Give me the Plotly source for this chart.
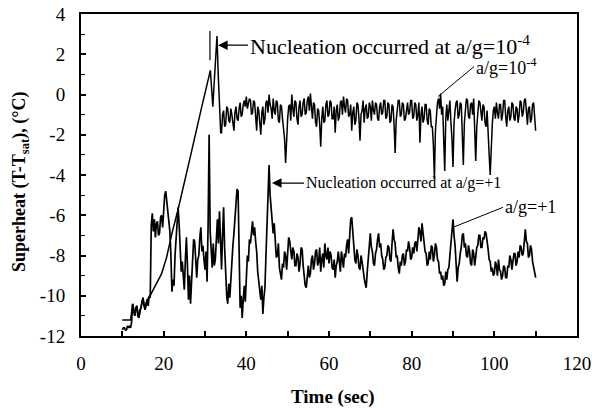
import plotly.graph_objects as go

# ---------------- data ----------------
# a/g = 1e-4 : early samples, the straight ramp, the nucleation peak
t_low_early = [10.0, 11.0, 12.0, 12.5, 13.0, 13.5, 14.0, 14.5, 15.0, 15.5, 16.0, 16.7,
               18.0, 19.5, 20.7, 22.0, 23.5, 25.0, 27.0, 29.0, 31.3,
               31.6, 31.9, 32.2, 32.5, 32.9, 33.2, 33.5, 33.8]
v_low_early = [-11.2, -11.2, -11.2, -10.4, -11.0, -10.5, -11.1, -10.6, -10.1, -10.7, -10.2, -10.0,
               -9.5, -8.9, -8.1, -6.9, -5.7, -4.3, -2.6, -0.8, 1.2,
               0.3, -0.6, 0.5, 1.5, 2.9, 1.0, -0.5, -1.9]

# a/g = 1e-4 : noisy plateau, sampled every 0.25 s from 34 s (one row per second)
low_start = 34.0
sample_step = 0.25
v_low_plateau = [
    -1.9, -1.0, -0.8, -1.6,   -1.5, -0.6, -0.7, -1.3,   -1.4, -0.7, -1.0, -1.5,
    -1.8, -0.9, -0.6, -1.2,   -1.3, -0.7, -0.4, -1.1,   -1.0, -0.5, -0.3, -0.6,
    -0.1, -0.7, -0.5, -0.2,   -0.3, -1.0, -0.9, -0.3,   -0.4, -1.1, -1.8, -0.6,
    -0.8, -1.4, -2.0, -0.9,   -0.6, -1.5, -1.2, -0.4,   -0.3, -0.9, 0.0, -0.5,
    -0.7, -1.2, -0.2, -0.8,   -1.0, -0.3, -0.4, -1.3,   -1.4, -0.5, -0.6, -1.2,
    -1.6, -2.2, -3.4, -1.7,   -1.2, -0.6, -0.5, -1.3,   0.0, -0.7, -1.1, -0.3,
    -0.4, -1.2, -1.5, -0.6,   -0.3, -1.1, -1.0, -0.4,   -0.2, -1.0, -0.9, -0.3,
    -0.1, -0.8, 0.05, -0.6,   -1.2, -0.4, -0.5, -1.4,   -1.6, -0.7, -0.8, -1.5,
    -2.6, -1.2, -0.6, -1.4,   -1.3, -0.5, -0.3, -1.1,   -1.0, -0.3, -0.4, -1.2,
    -1.2, -0.6, -1.9, -0.8,   -0.5, -1.3, -1.1, -0.4,   -0.3, -1.0, -0.1, -0.6,
    -0.9, -0.2, -0.3, -1.1,   -1.0, -0.5, -1.8, -0.9,   -0.6, -1.5, -1.3, -0.4,
    -0.5, -1.2, -2.3, -1.0,   -0.8, -0.3, -1.4, -0.7,   -0.5, -1.2, -1.1, -0.4,
    -0.6, -1.3, -0.3, -0.8,   -1.0, -0.4, -0.5, -1.2,   -1.3, -0.6, -0.4, -1.0,
    -0.9, -0.3, -0.3, -1.2,   -1.1, -0.4, -0.5, -1.4,   -1.3, -0.5, -0.6, -1.5,
    -2.9, -1.3, -0.8, -0.3,   -0.3, -1.1, -1.0, -0.4,   -0.5, -1.3, -1.2, -0.6,
    -0.4, -1.0, -0.9, -0.3,   -0.3, -1.2, -1.1, -0.4,   -0.5, -1.3, -1.0, -0.4,
    -2.4, -1.0, -0.6, -1.4,   -1.2, -0.5, -0.5, -1.3,   -1.5, -0.7, -0.8, -1.6,
    -1.6, -2.5, -4.2, -1.8,   -1.0, -0.4, -0.2, -0.7,   0.05, -1.0, -0.6, -2.0,
    -3.8, -1.2, -0.5, -1.3,   -0.7, -0.3, -1.4, -2.2,   -3.6, -1.4, -0.8, -0.4,
    -0.3, -1.2, -1.0, -0.4,   -0.5, -1.6, -3.5, -1.4,   -0.8, -0.2, -0.3, -1.1,
    -1.2, -0.5, -0.4, -1.0,   -0.2, -1.4, -3.3, -1.6,   -1.0, -0.3, -0.4, -1.1,
    -1.3, -0.5, -0.6, -1.4,   -1.6, -0.8, -2.4, -3.0,   -4.0, -2.2, -1.5, -0.8,
    -0.6, -1.2, -0.4, -0.9,   -1.2, -0.5, -0.5, -1.3,   -1.0, -0.3, -0.3, -1.1,
    -1.6, -0.8, -0.6, -1.3,   -1.1, -0.4, -0.5, -1.2,   -1.3, -0.6, -0.7, -1.4,
    -1.0, -0.3, -0.4, -1.1,   -0.9, -0.3, -0.2, -0.8,   -1.5, -0.7, -0.6, -1.4,
    -1.2, -0.5, -0.4, -1.1,   -1.8]

# a/g = +1 : sampled every 0.25 s from 10 s (one row per second)
one_start = 10.0
v_one = [
    -11.7, -11.6, -11.6, -11.7,   -11.7, -11.5, -11.6, -11.5,   -11.6, -11.3, -10.4, -10.8,
    -11.0, -10.6, -10.5, -11.0,   -11.1, -10.7, -10.6, -10.3,   -10.1, -10.5, -10.7, -10.4,
    -10.2, -10.5, -10.0, -10.1,   -6.5, -5.9, -6.8, -6.2,       -7.1, -6.4, -6.3, -7.0,
    -6.9, -6.1, -6.0, -6.6,       -5.6, -5.0, -4.8, -5.4,       -5.8, -6.5, -6.8, -8.0,
    -9.8, -9.2, -9.5, -8.0,       -7.0, -6.2, -5.6, -6.5,       -7.5, -8.8, -8.3, -9.3,
    -9.7, -8.2, -7.1, -8.5,       -10.2, -9.0, -10.4, -9.3,     -8.0, -7.2, -7.3, -8.6,
    -9.1, -8.2, -8.0, -7.1,       -6.6, -7.8, -7.5, -8.2,       -8.7, -7.8, -9.3, -6.5,
    -2.0, -6.8, -7.9, -8.6,       -7.4, -8.5, -8.2, -7.0,       -6.2, -7.4, -5.8, -7.2,
    -8.7, -7.0, -5.6, -7.6,       -9.2, -10.0, -10.4, -9.4,     -10.1, -9.0, -8.2, -7.5,
    -6.9, -6.0, -5.3, -4.7,       -4.8, -7.5, -10.6, -10.0,     -11.1, -10.2, -9.5, -10.3,
    -9.1, -8.0, -8.3, -7.2,       -7.4, -6.8, -6.3, -7.0,       -6.6, -7.3, -7.8, -8.8,
    -9.2, -9.8, -10.2, -9.5,      -10.9, -10.1, -9.6, -8.0,     -6.5, -4.8, -3.5, -5.0,
    -5.8, -6.6, -6.9, -6.4,       -7.3, -8.1, -8.0, -7.4,       -8.6, -9.0, -9.2, -8.4,
    -8.6, -7.8, -8.0, -8.7,       -7.5, -7.1, -7.3, -8.0,       -8.2, -7.6, -7.8, -8.5,
    -8.5, -7.9, -8.1, -8.8,       -8.4, -7.6, -7.7, -8.5,       -9.0, -9.5, -9.6, -8.8,
    -8.5, -9.1, -8.9, -8.2,       -8.0, -8.7, -8.4, -7.8,       -7.7, -8.5, -8.3, -7.6,
    -8.8, -8.2, -7.9, -8.6,       -7.4, -8.0, -8.2, -7.6,       -8.4, -7.8, -8.0, -8.6,
    -8.7, -8.2, -9.1, -8.5,       -8.3, -7.8, -8.2, -8.8,       -7.8, -8.4, -8.6, -7.9,
    -8.1, -7.5, -7.2, -7.9,       -6.8, -6.2, -6.1, -7.0,       -7.5, -8.2, -8.4, -7.7,
    -8.0, -8.6, -8.7, -8.0,       -8.3, -8.9, -9.1, -9.4,       -9.6, -8.8, -8.0, -7.4,
    -6.9, -7.6, -7.8, -8.4,       -8.5, -7.9, -7.7, -7.2,       -6.9, -7.6, -7.4, -8.0,
    -8.2, -8.7, -8.6, -8.1,       -8.0, -7.5, -7.6, -8.2,       -8.3, -7.4, -6.7, -7.2,
    -7.4, -8.1, -8.0, -8.6,       -8.9, -8.3, -8.5, -8.0,       -7.9, -8.5, -8.3, -7.7,
    -7.8, -7.3, -7.6, -8.2,       -8.1, -7.6, -7.9, -7.4,       -7.3, -7.8, -7.0, -6.6,
    -6.8, -7.3, -6.4, -7.0,       -7.2, -7.8, -7.9, -8.5,       -8.4, -7.8, -8.2, -7.5,
    -7.6, -8.3, -8.0, -7.4,       -7.6, -8.2, -8.3, -8.9,       -8.8, -9.2, -9.0, -9.5,
    -9.4, -8.8, -9.2, -8.7,       -8.6, -8.0, -7.8, -7.0,       -6.2, -7.0, -7.5, -8.4,
    -9.3, -8.6, -8.4, -7.9,       -7.6, -7.0, -6.9, -7.6,       -7.4, -8.0, -8.1, -7.5,
    -7.8, -8.4, -8.5, -7.7,       -7.9, -8.5, -8.1, -7.6,       -7.5, -7.0, -7.0, -7.6,
    -7.6, -7.1, -7.2, -6.8,       -6.9, -7.5, -7.7, -8.2,       -8.3, -8.8, -8.6, -9.0,
    -8.9, -8.3, -8.5, -9.0,       -8.2, -8.7, -8.8, -9.2,       -9.0, -8.5, -8.6, -9.1,
    -9.1, -8.5, -8.6, -8.0,       -8.2, -8.7, -8.4, -7.9,       -7.9, -8.5, -8.3, -7.8,
    -8.1, -7.5, -7.6, -8.0,       -7.9, -7.2, -6.7, -7.3,       -7.4, -8.1, -8.0, -7.5,
    -7.7, -8.3, -8.6, -8.9,       -9.1]

x_ticks = [0, 20, 40, 60, 80, 100, 120]
y_ticks = [-12, -10, -8, -6, -4, -2, 0, 2, 4]

# annotation anchor points (data units)
nuc_low = (33.15, 2.45)
nuc_one = (46.2, -4.4)
lab_low = (86.4, -0.1)
lab_one = (90.0, -6.6)
bar_low = (31.2, 1.7, 3.15)

# sample times of the evenly sampled records
t_low = t_low_early + [low_start + sample_step * i for i in range(len(v_low_plateau))]
v_low = v_low_early + v_low_plateau
t_one = [one_start + sample_step * i for i in range(len(v_one))]

SERIF = "Liberation Serif, Times New Roman, serif"

fig = go.Figure()
fig.add_trace(go.Scatter(x=t_low, y=v_low, mode="lines",
                         line=dict(color="black", width=1.5), showlegend=False))
fig.add_trace(go.Scatter(x=t_one, y=v_one, mode="lines",
                         line=dict(color="black", width=1.7), showlegend=False))

fig.add_shape(type="line", x0=bar_low[0], x1=bar_low[0], y0=bar_low[1], y1=bar_low[2],
              line=dict(color="black", width=1.2))

fig.add_annotation(x=nuc_low[0], y=nuc_low[1], ax=30, ay=0, xanchor="left",
                   text="Nucleation occurred at a/g=10<sup>-4</sup>",
                   showarrow=True, arrowhead=2, arrowsize=1.6, arrowwidth=1.2,
                   arrowcolor="black", font=dict(family=SERIF, size=22, color="black"))
fig.add_annotation(x=nuc_one[0], y=nuc_one[1], ax=32, ay=0, xanchor="left",
                   text="Nucleation occurred at a/g=+1",
                   showarrow=True, arrowhead=2, arrowsize=1.6, arrowwidth=1.2,
                   arrowcolor="black", font=dict(family=SERIF, size=16, color="black"))
fig.add_annotation(x=lab_low[0], y=lab_low[1], ax=36, ay=-30, xanchor="left", yanchor="middle",
                   text="a/g=10<sup>-4</sup>", showarrow=True, arrowhead=0, arrowwidth=1,
                   arrowcolor="black", font=dict(family=SERIF, size=18, color="black"))
fig.add_annotation(x=lab_one[0], y=lab_one[1], ax=50, ay=-20, xanchor="left", yanchor="middle",
                   text="a/g=+1", showarrow=True, arrowhead=0, arrowwidth=1,
                   arrowcolor="black", font=dict(family=SERIF, size=18, color="black"))

# axis titles
fig.add_annotation(xref="paper", yref="paper", x=0.508, y=-0.19, showarrow=False,
                   xanchor="center", yanchor="middle", text="<b>Time (sec)</b>",
                   font=dict(family=SERIF, size=19, color="black"))
fig.add_annotation(xref="paper", yref="paper", x=-0.123, y=0.478, showarrow=False,
                   xanchor="center", yanchor="middle", textangle=-90,
                   text="<b>Superheat (T-T<sub>sat</sub>), (°C)</b>",
                   font=dict(family=SERIF, size=18, color="black"))

fig.update_layout(
    width=592, height=408,
    margin=dict(l=81, r=15, t=14, b=72),
    paper_bgcolor="white", plot_bgcolor="white",
    font=dict(family=SERIF, color="black"),
)
fig.update_xaxes(
    range=[0, 120], tickvals=x_ticks, ticktext=[str(v) for v in x_ticks],
    showline=True, linecolor="black", linewidth=2, mirror=True,
    ticks="inside", ticklen=5, tickwidth=1.5, tickcolor="black",
    minor=dict(dtick=10, ticks="inside", ticklen=5, tickwidth=1.5, tickcolor="black"),
    showgrid=False, zeroline=False, ticklabelstandoff=9, automargin=False,
    ticklabeloverflow="allow", tickfont=dict(family=SERIF, size=19),
)
fig.update_yaxes(
    range=[-12, 4], tickvals=y_ticks, ticktext=[str(v) for v in y_ticks],
    showline=True, linecolor="black", linewidth=2, mirror=True,
    ticks="inside", ticklen=5, tickwidth=1.5, tickcolor="black",
    minor=dict(dtick=1, ticks="inside", ticklen=4, tickwidth=1.2, tickcolor="black"),
    showgrid=False, zeroline=False, ticklabelstandoff=10, automargin=False,
    ticklabeloverflow="allow", tickfont=dict(family=SERIF, size=19),
)

# remove the page's default 8 px body margin so the figure sits at the window's corner
fig.write_html("out.html", config={"displayModeBar": False},
               post_script="document.body.style.margin='0';")
